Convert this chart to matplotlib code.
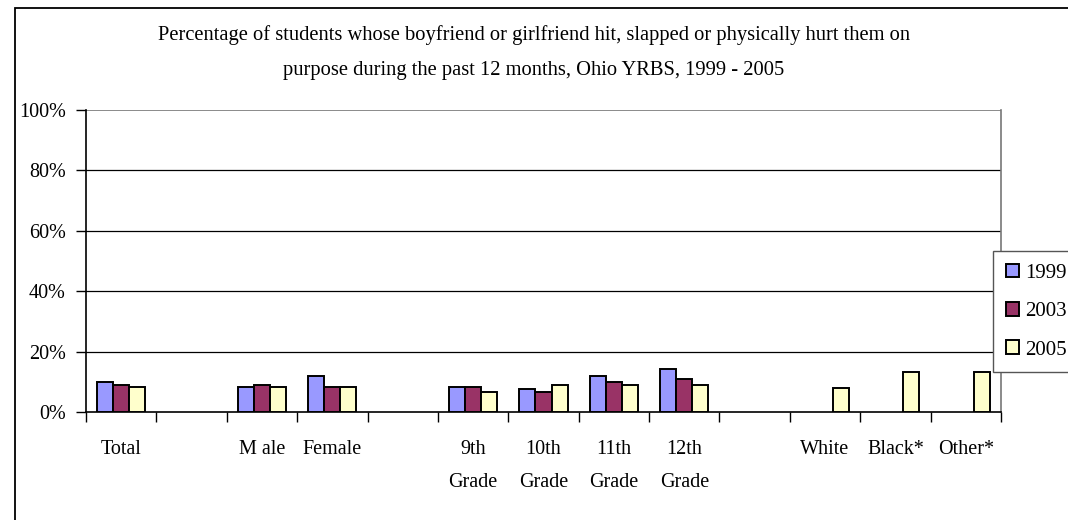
import numpy as np
import matplotlib
matplotlib.use('Agg')
import matplotlib.pyplot as plt
from matplotlib.patches import Rectangle
from matplotlib.ticker import FixedLocator, PercentFormatter

plt.rcParams['font.family'] = ['Liberation Serif', 'DejaVu Serif']

# Données (en %)
categories = ['Total', '', 'M ale', 'Female', '', '9th\nGrade', '10th\nGrade',
              '11th\nGrade', '12th\nGrade', '', 'White', 'Black*', 'Other*']
annees = ['1999', '2003', '2005']
v1999 = [9.8, np.nan, 8.3, 11.8, np.nan, 8.3, 7.7, 11.8, 14.3, np.nan, np.nan, np.nan, np.nan]
v2003 = [9.1, np.nan, 9.1, 8.3, np.nan, 8.3, 6.5, 9.8, 11.0, np.nan, np.nan, np.nan, np.nan]
v2005 = [8.3, np.nan, 8.3, 8.3, np.nan, 6.5, 9.1, 9.1, 9.1, np.nan, 7.8, 13.1, 13.1]
couleurs = ['#9999FF', '#993366', '#FFFFCC']

W, H = 1068, 520
fig = plt.figure(figsize=(W / 100, H / 100), dpi=100)
ax = fig.add_axes([86 / W, 1 - 412 / H, (1001 - 86) / W, (412 - 110) / H])

n = len(categories)
x = np.arange(n) + 0.5
larg = 0.228
for k, (vals, c, lab) in enumerate(zip([v1999, v2003, v2005], couleurs, annees)):
    ax.bar(x + (k - 1) * larg, vals, larg, color=c, edgecolor='black', linewidth=1.4,
           label=lab, zorder=3)

ax.set_xlim(0, n)
ax.set_ylim(0, 100)
ax.set_yticks(np.arange(0, 101, 20))
ax.yaxis.set_major_formatter(PercentFormatter(decimals=0))
ax.tick_params(axis='y', direction='out', length=7, width=1, labelsize=14.5, pad=7.5)
for yv in range(20, 100, 20):
    ax.axhline(yv, color='black', linewidth=0.9, zorder=1)
ax.axhline(100, color='#777777', linewidth=1.2, zorder=1)

ax.set_xticks(x)
ax.set_xticklabels(categories)
ax.xaxis.set_minor_locator(FixedLocator(np.arange(n + 1)))
ax.tick_params(axis='x', which='major', length=0, labelsize=14.5, pad=20.5)
ax.tick_params(axis='x', which='minor', direction='out', length=7, width=1)
for t in ax.get_xticklabels():
    t.set_linespacing(1.95)

for s in ['left', 'bottom']:
    ax.spines[s].set_color('black')
    ax.spines[s].set_linewidth(1.2)
ax.spines['top'].set_visible(False)
ax.spines['right'].set_color('#777777')
ax.spines['right'].set_linewidth(1.2)

fig.text(0.5, 1 - 35 / H, 'Percentage of students whose boyfriend or girlfriend hit, slapped or physically hurt them on',
         ha='center', va='center', fontsize=14.8)
fig.text(0.5, 1 - 70 / H, 'purpose during the past 12 months, Ohio YRBS, 1999 - 2005',
         ha='center', va='center', fontsize=14.8)

leg = ax.legend(loc='upper left', bbox_to_anchor=(993 / W, 1 - 251 / H), bbox_transform=fig.transFigure,
                fancybox=False, edgecolor='#555555', framealpha=1, fontsize=15,
                handlelength=0.65, handleheight=0.65, handletextpad=0.3, labelspacing=0.92,
                borderpad=0.6, borderaxespad=0)
leg.get_frame().set_linewidth(1.0)
leg.set_zorder(10)

fig.patches.append(Rectangle((15 / W, -0.1), 1.0, 1 - 8 / H + 0.1, transform=fig.transFigure,
                             fill=False, edgecolor='black', linewidth=1.3))

fig.savefig('out.png', dpi=100)
